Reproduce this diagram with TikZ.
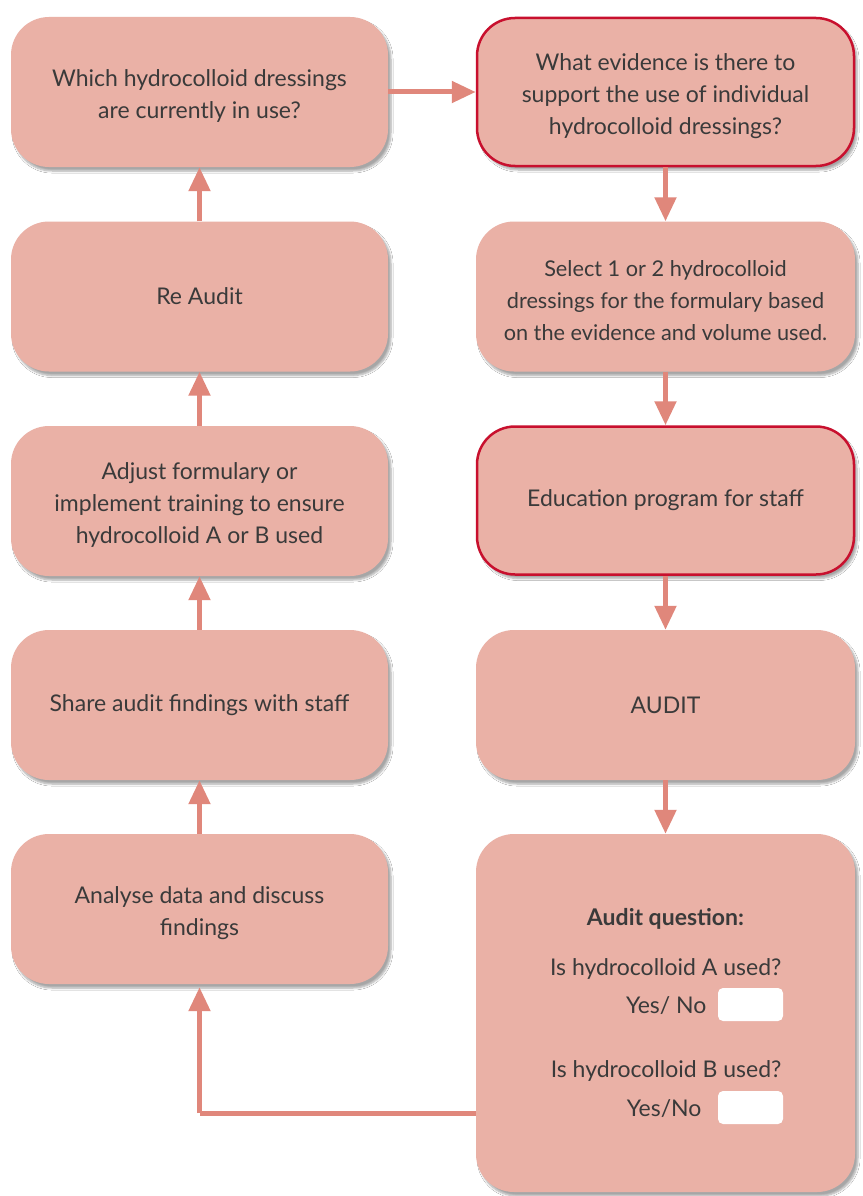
\documentclass[tikz,border=0pt]{standalone}
\usepackage{fontspec}
\setmainfont{Lato}
\usetikzlibrary{arrows.meta,shadows.blur}
\definecolor{boxfill}{HTML}{EAB1A6}
\definecolor{redline}{HTML}{C8102E}
\definecolor{arrowc}{HTML}{E0877B}
\definecolor{txt}{HTML}{3A3A3A}
\newcommand\mytopstrut{\rule{0pt}{25pt}}
\tikzset{
  stepbox/.style={rectangle, rounded corners=38pt, fill=boxfill, draw=none,
    minimum width=377pt, minimum height=150pt, align=center, text=txt,
    font=\fontsize{23}{32}\selectfont,
    blur shadow={shadow blur steps=6, shadow xshift=3pt, shadow yshift=-4pt, shadow opacity=35}},
  redbox/.style={stepbox, draw=redline, line width=2.5pt},
  conn/.style={draw=arrowc, line width=5pt, -{Triangle[width=21pt,length=24pt]}},
  plainline/.style={draw=arrowc, line width=5pt},
  qtext/.style={text=txt, font=\fontsize{23}{28}\selectfont},
  whitebox/.style={rectangle, rounded corners=5pt, fill=white, minimum width=65pt, minimum height=33pt, inner sep=0pt}
}
\begin{document}
\begin{tikzpicture}[x=1pt,y=-1pt]
\useasboundingbox[fill=white] (0,0) rectangle (862,1196);
% left column
\node[stepbox] (l1) at (199.5,92) {\mytopstrut Which hydrocolloid dressings\\are currently in use?};
\node[stepbox] (l2) at (199.5,296.5) {Re Audit};
\node[stepbox] (l3) at (199.5,501) {\mytopstrut Adjust formulary or\\implement training to ensure\\hydrocolloid A or B used};
\node[stepbox] (l4) at (199.5,705) {Share audit findings with staff};
\node[stepbox] (l5) at (199.5,909) {\mytopstrut Analyse data and discuss\\findings};
% right column
\node[redbox, minimum width=377pt, minimum height=148pt] (r1) at (665.5,92) {\mytopstrut What evidence is there to\\support the use of individual\\hydrocolloid dressings?};
\node[stepbox, minimum width=379pt, font=\fontsize{21.7}{32}\selectfont] (r2) at (665.5,296.5) {\mytopstrut Select 1 or 2 hydrocolloid\\dressings for the formulary based\\on the evidence and volume used.};
\node[redbox, minimum width=377pt, minimum height=148pt] (r3) at (665.5,500.5) {Education program for staff};
\node[stepbox, minimum width=379pt] (r4) at (665.5,705) {AUDIT};
\node[stepbox, minimum width=379pt, minimum height=358pt] (r5) at (665.5,1013) {};
% contents of audit box
\node[qtext, font=\fontsize{23}{28}\selectfont\bfseries] (aq) at (665.5,919) {Audit question:};
\node[qtext, anchor=east] (qa) at (785,969) {Is hydrocolloid A used?};
\node[whitebox] (wa) at (750.5,1004.5) {};
\node[qtext, anchor=east] (ya) at (710,1006) {Yes/ No};
\node[qtext, anchor=east] (qb) at (785,1071) {Is hydrocolloid B used?};
\node[whitebox] (wb) at (750.5,1107.5) {};
\node[qtext, anchor=east] (yb) at (705,1109) {Yes/No};
% connectors
\draw[conn] (l1.east) -- (r1.west);
\draw[conn] (r1.south) -- (r2.north);
\draw[conn] (r2.south) -- (r3.north);
\draw[conn] (r3.south) -- (r4.north);
\draw[conn] (r4.south) -- (r5.north);
\draw[conn] (l2.north) -- (l1.south);
\draw[conn] (l3.north) -- (l2.south);
\draw[conn] (l4.north) -- (l3.south);
\draw[conn] (l5.north) -- (l4.south);
\coordinate (bend) at (199.5,1113);
\draw[plainline] (r5.west |- bend) -- (bend);
\draw[conn, shorten >=3pt] (bend) -- (l5.south);
\end{tikzpicture}
\end{document}
